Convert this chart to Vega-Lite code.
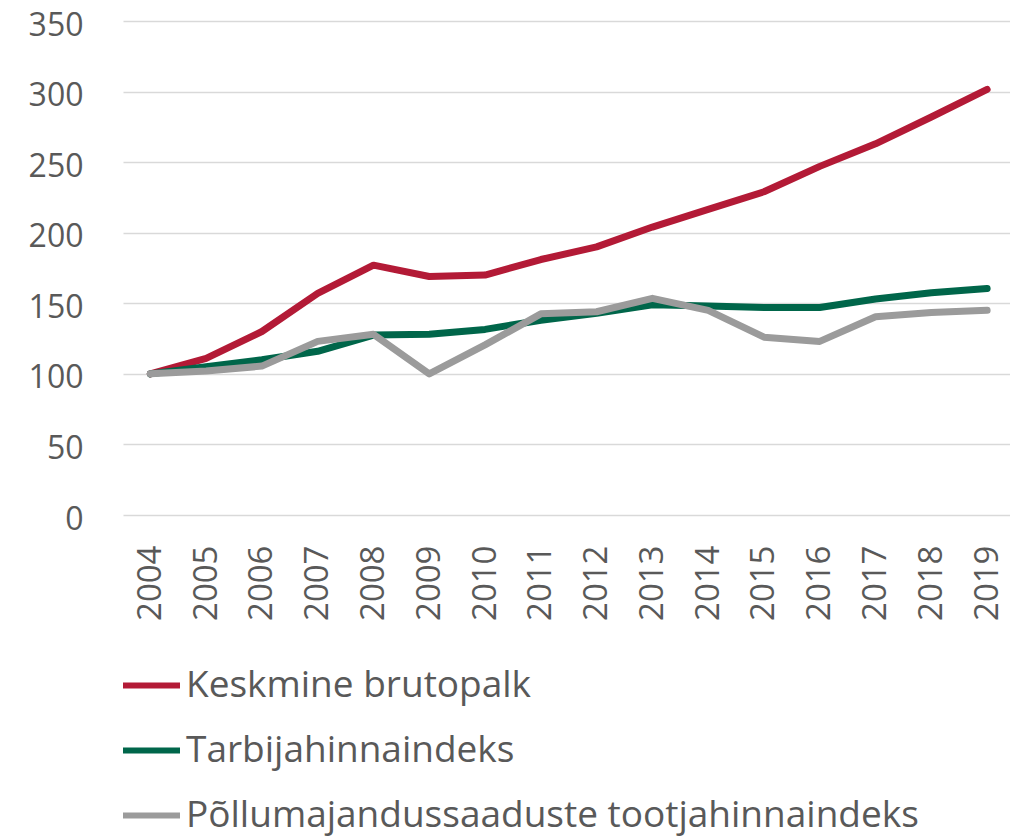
{
  "$schema": "https://vega.github.io/schema/vega-lite/v6.json",
  "autosize": {"type": "none"},
  "padding": {"left": 123, "top": 21, "right": 0, "bottom": 323},
  "width": 887,
  "height": 494,
  "background": "white",
  "config": {
    "view": {"stroke": null},
    "font": "Open Sans"
  },
  "data": {
    "values": [
      {"year": 2004, "series": "Keskmine brutopalk", "value": 100},
      {"year": 2005, "series": "Keskmine brutopalk", "value": 111},
      {"year": 2006, "series": "Keskmine brutopalk", "value": 130},
      {"year": 2007, "series": "Keskmine brutopalk", "value": 157},
      {"year": 2008, "series": "Keskmine brutopalk", "value": 177},
      {"year": 2009, "series": "Keskmine brutopalk", "value": 169},
      {"year": 2010, "series": "Keskmine brutopalk", "value": 170},
      {"year": 2011, "series": "Keskmine brutopalk", "value": 181},
      {"year": 2012, "series": "Keskmine brutopalk", "value": 190},
      {"year": 2013, "series": "Keskmine brutopalk", "value": 204},
      {"year": 2014, "series": "Keskmine brutopalk", "value": 216.5},
      {"year": 2015, "series": "Keskmine brutopalk", "value": 229},
      {"year": 2016, "series": "Keskmine brutopalk", "value": 247},
      {"year": 2017, "series": "Keskmine brutopalk", "value": 263},
      {"year": 2018, "series": "Keskmine brutopalk", "value": 282},
      {"year": 2019, "series": "Keskmine brutopalk", "value": 301.5},
      {"year": 2004, "series": "Tarbijahinnaindeks", "value": 100},
      {"year": 2005, "series": "Tarbijahinnaindeks", "value": 105},
      {"year": 2006, "series": "Tarbijahinnaindeks", "value": 110},
      {"year": 2007, "series": "Tarbijahinnaindeks", "value": 116},
      {"year": 2008, "series": "Tarbijahinnaindeks", "value": 127.5},
      {"year": 2009, "series": "Tarbijahinnaindeks", "value": 128},
      {"year": 2010, "series": "Tarbijahinnaindeks", "value": 131.5},
      {"year": 2011, "series": "Tarbijahinnaindeks", "value": 138},
      {"year": 2012, "series": "Tarbijahinnaindeks", "value": 143},
      {"year": 2013, "series": "Tarbijahinnaindeks", "value": 149},
      {"year": 2014, "series": "Tarbijahinnaindeks", "value": 148},
      {"year": 2015, "series": "Tarbijahinnaindeks", "value": 147},
      {"year": 2016, "series": "Tarbijahinnaindeks", "value": 147},
      {"year": 2017, "series": "Tarbijahinnaindeks", "value": 153},
      {"year": 2018, "series": "Tarbijahinnaindeks", "value": 157.5},
      {"year": 2019, "series": "Tarbijahinnaindeks", "value": 160.5},
      {"year": 2004, "series": "Põllumajandussaaduste tootjahinnaindeks", "value": 100},
      {"year": 2005, "series": "Põllumajandussaaduste tootjahinnaindeks", "value": 102},
      {"year": 2006, "series": "Põllumajandussaaduste tootjahinnaindeks", "value": 105.5},
      {"year": 2007, "series": "Põllumajandussaaduste tootjahinnaindeks", "value": 123},
      {"year": 2008, "series": "Põllumajandussaaduste tootjahinnaindeks", "value": 128},
      {"year": 2009, "series": "Põllumajandussaaduste tootjahinnaindeks", "value": 100},
      {"year": 2010, "series": "Põllumajandussaaduste tootjahinnaindeks", "value": 120.5},
      {"year": 2011, "series": "Põllumajandussaaduste tootjahinnaindeks", "value": 142.5},
      {"year": 2012, "series": "Põllumajandussaaduste tootjahinnaindeks", "value": 144},
      {"year": 2013, "series": "Põllumajandussaaduste tootjahinnaindeks", "value": 153.5},
      {"year": 2014, "series": "Põllumajandussaaduste tootjahinnaindeks", "value": 145},
      {"year": 2015, "series": "Põllumajandussaaduste tootjahinnaindeks", "value": 126},
      {"year": 2016, "series": "Põllumajandussaaduste tootjahinnaindeks", "value": 123},
      {"year": 2017, "series": "Põllumajandussaaduste tootjahinnaindeks", "value": 140.5},
      {"year": 2018, "series": "Põllumajandussaaduste tootjahinnaindeks", "value": 143.5},
      {"year": 2019, "series": "Põllumajandussaaduste tootjahinnaindeks", "value": 145}
    ]
  },
  "mark": {"type": "line", "strokeWidth": 7, "strokeCap": "round", "strokeJoin": "round"},
  "encoding": {
    "x": {
      "field": "year",
      "type": "quantitative",
      "scale": {"domain": [2003.51, 2019.41], "nice": false, "zero": false},
      "axis": {
        "title": null,
        "values": [2004, 2005, 2006, 2007, 2008, 2009, 2010, 2011, 2012, 2013, 2014, 2015, 2016, 2017, 2018, 2019],
        "format": "d",
        "labelAngle": -90,
        "labelAlign": "right",
        "labelBaseline": "middle",
        "labelPadding": 30,
        "labelFontSize": 33,
        "labelColor": "#595959",
        "labelFlush": false,
        "labelOverlap": false,
        "ticks": false,
        "domain": false,
        "grid": false
      }
    },
    "y": {
      "field": "value",
      "type": "quantitative",
      "scale": {"domain": [0, 350], "nice": false},
      "axis": {
        "title": null,
        "values": [0, 50, 100, 150, 200, 250, 300, 350],
        "labelFontSize": 32,
        "labelColor": "#595959",
        "labelPadding": 40,
        "labelOffset": 4,
        "ticks": false,
        "domain": false,
        "grid": true,
        "gridColor": "#D9D9D9",
        "gridWidth": 1.5
      }
    },
    "color": {
      "field": "series",
      "type": "nominal",
      "sort": null,
      "scale": {
        "domain": ["Keskmine brutopalk", "Tarbijahinnaindeks", "Põllumajandussaaduste tootjahinnaindeks"],
        "range": ["#B31A36", "#00664A", "#9B9B9B"]
      },
      "legend": {
        "title": null,
        "orient": "none",
        "legendX": -3,
        "legendY": 633,
        "direction": "vertical",
        "symbolType": "stroke",
        "symbolSize": 3249,
        "symbolStrokeWidth": 6,
        "labelFontSize": 37,
        "labelColor": "#595959",
        "labelOffset": 3,
        "labelLimit": 900,
        "rowPadding": 15
      }
    }
  }
}
